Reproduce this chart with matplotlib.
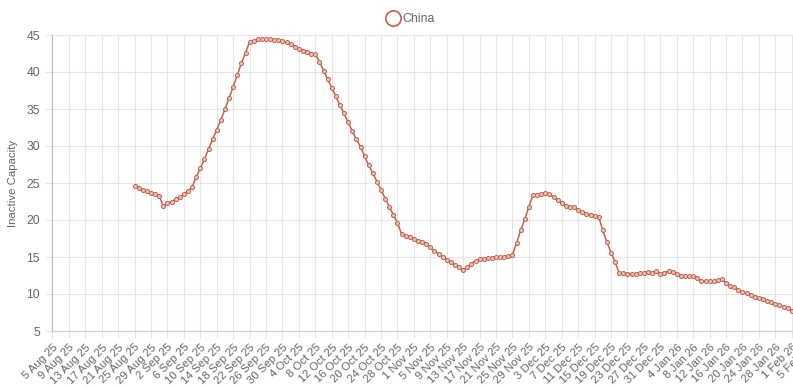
import matplotlib
matplotlib.use("Agg")
import matplotlib.pyplot as plt
from matplotlib.lines import Line2D
import pandas as pd

series_name = "China"
y_label = "Inactive Capacity"
start_date = "2025-08-25"
axis_start = "2025-08-05"
axis_end = "2026-02-05"
y_ticks = [5, 10, 15, 20, 25, 30, 35, 40, 45]

values = [
    24.6, 24.3, 24.1, 23.9, 23.7, 23.5, 23.2, 21.9,
    22.3, 22.5, 22.8, 23.1, 23.5, 23.9, 24.5, 25.8, 27.0,
    28.2, 29.6, 30.9, 32.2, 33.5, 35.0, 36.5, 38.0, 39.6, 41.2, 42.6, 44.1,
    44.2, 44.4, 44.4, 44.4, 44.4, 44.3, 44.3, 44.2,
    44.0, 43.8, 43.4, 43.1, 42.9, 42.7, 42.5, 42.4,
    41.4, 40.2, 39.0, 37.9, 36.7, 35.5, 34.4, 33.2, 32.0, 30.9, 29.9, 28.6,
    27.4, 26.3, 25.2, 24.1, 22.9,
    21.8, 20.7, 19.6, 18.1, 17.8, 17.7, 17.4, 17.2, 17.0, 16.8, 16.3, 15.85,
    15.4, 15.05, 14.6, 14.3, 13.9, 13.6, 13.2, 13.7, 14.1, 14.5, 14.7, 14.75,
    14.8, 14.9, 15.0, 15.0, 15.05, 15.1, 15.3, 16.9, 18.6, 20.1, 21.8, 23.4,
    23.4, 23.5, 23.6, 23.5, 23.1, 22.7, 22.3, 21.9, 21.8, 21.7, 21.4, 21.1,
    20.8, 20.7, 20.6, 20.4, 18.6, 17.0, 15.6, 14.3, 12.8, 12.8, 12.75, 12.75,
    12.7, 12.8, 12.9, 13.0, 12.9, 13.05, 12.7, 12.9, 13.05, 13.0, 12.7, 12.5,
    12.5, 12.4, 12.4, 12.1, 11.8, 11.75, 11.7, 11.8, 11.9, 12.0, 11.5, 11.1,
    10.9, 10.6, 10.3, 10.1, 9.9, 9.6, 9.5, 9.3, 9.1, 8.9, 8.65, 8.5,
    8.3, 8.1, 7.75, 7.6,
]

dates = pd.date_range(start_date, periods=len(values), freq="D")
tick_dates = pd.date_range(axis_start, axis_end, freq="4D")
tick_labels = [f"{d.day} {d.strftime('%b')} {d.strftime('%y')}" for d in tick_dates]

line_color = "#c0624c"
face_color = "#eec2b8"
grid_color = "#e6e6e6"
text_color = "#666666"

plt.rcParams["font.family"] = ["Liberation Sans", "DejaVu Sans"]

W, H = 793, 388
fig = plt.figure(figsize=(W / 100, H / 100), dpi=100)
left_px, right_px, top_px, bottom_px = 52.5, 808.2, 35, 331
ax = fig.add_axes([left_px / W, (H - bottom_px) / H,
                   (right_px - left_px) / W, (bottom_px - top_px) / H])

ax.plot(dates, values, color=line_color, linewidth=1.1, marker="o",
        markersize=2.9, markerfacecolor=face_color, markeredgecolor=line_color,
        markeredgewidth=0.7, zorder=3)

ax.set_xlim(pd.Timestamp(axis_start), pd.Timestamp(axis_end))
ax.set_ylim(y_ticks[0], y_ticks[-1])
ax.set_yticks(y_ticks)
ax.set_xticks(tick_dates)
ax.set_xticklabels(tick_labels, rotation=45, ha="right", va="top",
                   rotation_mode="anchor", fontsize=8.2, color=text_color)
ax.tick_params(axis="y", labelsize=8.8, labelcolor=text_color, colors=grid_color,
               length=5, pad=4)
ax.tick_params(axis="x", colors=grid_color, length=5, pad=3, labelcolor=text_color)
ax.grid(True, color=grid_color, linewidth=0.8, zorder=0)
ax.set_axisbelow(True)
for s in ["top", "right"]:
    ax.spines[s].set_visible(False)
ax.spines["left"].set_color("#bdbdbd")
ax.spines["bottom"].set_color("#d0d0d0")
ax.set_ylabel(y_label, fontsize=8.2, color=text_color, labelpad=6)

handle = Line2D([], [], linestyle="none", marker="o", markersize=11,
                markerfacecolor="none", markeredgecolor=line_color,
                markeredgewidth=1.2)
fig.legend([handle], [series_name], loc="center", bbox_to_anchor=(410 / W, 1 - 19 / H),
           frameon=False, fontsize=8.8, labelcolor=text_color, handletextpad=0.2,
           handlelength=1.2, borderpad=0)

fig.savefig("out.png", dpi=100)
